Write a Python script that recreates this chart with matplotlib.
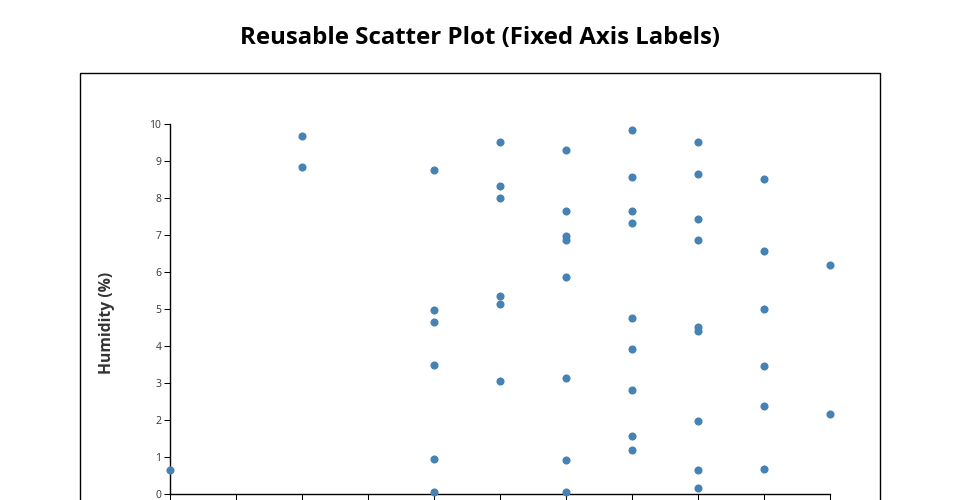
import matplotlib
matplotlib.use("Agg")
import matplotlib.pyplot as plt
from matplotlib.patches import Rectangle

title = "Reusable Scatter Plot (Fixed Axis Labels)"
y_label = "Humidity (%)"
x_ticks = [0, 1, 2, 3, 4, 5, 6, 7, 8, 9, 10]
y_ticks = [0, 1, 2, 3, 4, 5, 6, 7, 8, 9, 10]

x_values = [0,
            2, 2,
            4, 4, 4, 4, 4, 4,
            5, 5, 5, 5, 5, 5,
            6, 6, 6, 6, 6, 6, 6, 6,
            7, 7, 7, 7, 7, 7, 7, 7, 7,
            8, 8, 8, 8, 8, 8, 8, 8, 8,
            9, 9, 9, 9, 9, 9,
            10, 10]
y_values = [0.65,
            9.68, 8.84,
            8.76, 4.97, 4.65, 3.49, 0.95, 0.06,
            9.51, 8.33, 8.01, 5.35, 5.14, 3.05,
            9.30, 7.65, 6.98, 6.86, 5.87, 3.14, 0.92, 0.06,
            9.84, 8.57, 7.65, 7.32, 4.76, 3.92, 2.82, 1.56, 1.19,
            9.51, 8.65, 7.43, 6.86, 4.51, 4.41, 1.96, 0.65, 0.16,
            8.51, 6.57, 5.00, 3.46, 2.37, 0.68,
            6.19, 2.16]

plt.rcParams['font.family'] = ['Open Sans', 'DejaVu Sans']

W, H = 960, 500
fig = plt.figure(figsize=(9.6, 5.0), dpi=100)

# outer frame
fig.patches.append(Rectangle((80 / W, -0.2), 800 / W, (500 - 73) / H + 0.2,
                             transform=fig.transFigure, fill=False,
                             edgecolor='black', linewidth=1.0))

ax = fig.add_axes([170 / W, (500 - 494) / H, 660 / W, 370 / H])
ax.scatter(x_values, y_values, s=34, color='#4682b4', linewidths=0,
           clip_on=False, zorder=3)
ax.set_xlim(0, 10)
ax.set_ylim(0, 10)
ax.set_xticks(x_ticks)
ax.set_yticks(y_ticks)
ax.set_xticklabels([])
ax.set_yticklabels([str(v) for v in y_ticks])
for s in ['top', 'right']:
    ax.spines[s].set_visible(False)
for s in ['left', 'bottom']:
    ax.spines[s].set_linewidth(1.0)
    ax.spines[s].set_color('black')
ax.tick_params(axis='both', length=4.3, width=0.75, color='black',
               labelsize=7.5, labelcolor='#333333', pad=2)

fig.text(480 / W, 1 - 38 / H, title, ha='center', va='center',
         fontsize=17.3, fontweight='bold', color='black')
fig.text(107 / W, 1 - 323 / H, y_label, ha='center', va='center',
         rotation=90, fontsize=11.3, fontweight='bold', color='#333333')

fig.savefig('out.png', dpi=100)
